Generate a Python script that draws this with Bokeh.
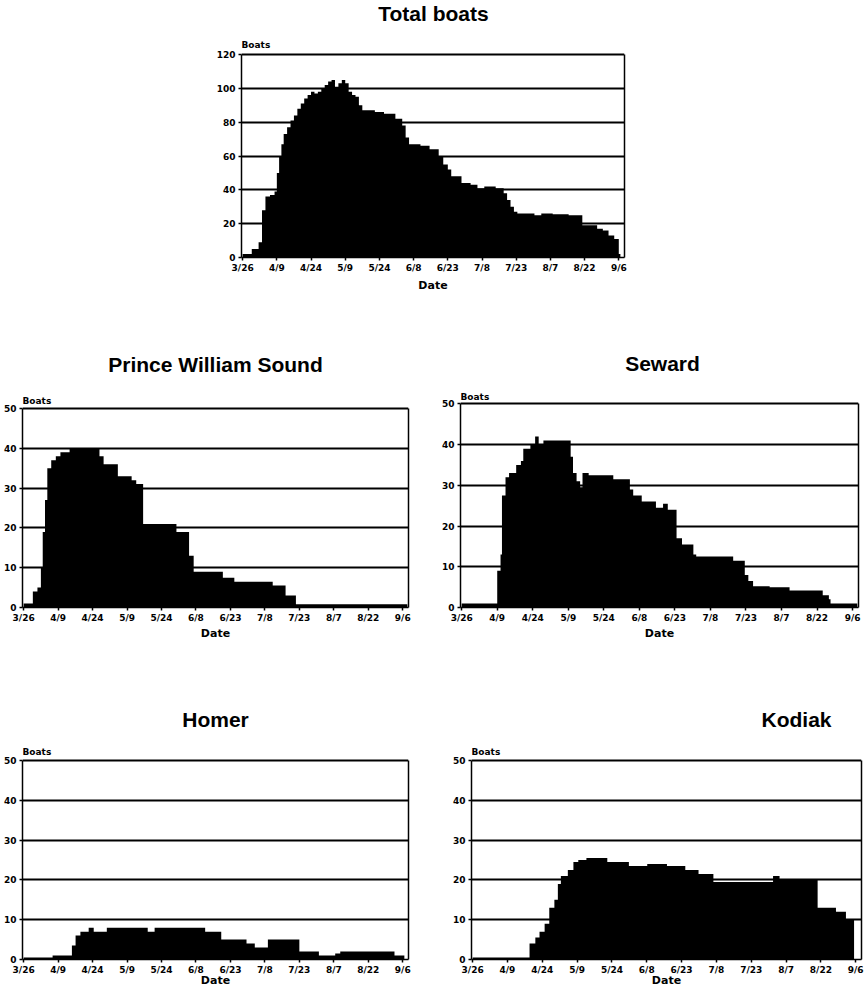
from bokeh.plotting import figure
from bokeh.layouts import column, row
from bokeh.models import FixedTicker, Range1d, Label, LinearAxis
from bokeh.embed import file_html
from bokeh.resources import INLINE

# ---------------- data ----------------
date_ticks = [0, 15, 30, 45, 60, 75, 90, 105, 120, 135, 150, 165]
date_labels = ["3/26", "4/9", "4/24", "5/9", "5/24", "6/8", "6/23",
               "7/8", "7/23", "8/7", "8/22", "9/6"]

# step start days (days after 3/26) and the last end day
total_days = [0, 4, 7, 8.5, 10, 12, 14, 15, 16, 17, 18, 19.5, 21, 22.5, 24, 25.5,
              27, 28.5, 30, 31.5, 33, 34.5, 36, 37.5, 39, 40.5, 42, 43.5, 45, 46.5,
              48, 49.5, 51, 52.5, 58, 62, 67, 70, 71.5, 73, 78, 82, 86, 88, 90,
              91.5, 96, 100, 103, 106, 111, 114.5, 116, 117.5, 119, 120.5, 128,
              131, 136, 143, 149, 155.5, 158, 160.5, 163, 165, 165.7]
total_boats = [2, 5, 9, 28, 36, 37, 39, 50, 60, 67, 73, 77, 81, 84, 88, 91,
               94, 96, 98, 97, 98, 100, 102, 104, 105, 101, 103, 105, 103, 98,
               96, 95, 90, 87, 86, 85, 82, 78, 71, 67, 66, 64, 60, 55, 52,
               48, 44, 43, 41, 42, 41, 38, 34, 30, 27, 26, 25,
               26, 25.5, 25, 19, 17, 16, 13, 11, 2]

pws_days = [0, 4, 6, 7.5, 8.3, 9.3, 10.3, 12, 14, 16, 20, 33, 34.8, 41, 47, 49,
            52, 66.5, 72, 74, 86.7, 91.7, 108.4, 114, 118.5, 167]
pws_boats = [1, 4, 5, 10, 19, 27, 35, 37, 38, 39, 40, 38, 36, 33, 32, 31,
             21, 19, 13, 9, 7.5, 6.5, 5.5, 3, 0.8]

seward_days = [0, 15, 16.4, 17, 18.5, 20, 23, 25, 26, 29, 31, 32.5, 34.5, 46, 47,
               48.5, 50, 51, 53.6, 64, 71, 72.4, 76, 82, 85, 87, 90.7, 93, 97.8,
               99, 114.6, 119.5, 121, 123, 130, 138.4, 152.4, 155, 155.7, 167]
seward_boats = [1, 9, 13, 27.5, 32, 33, 35, 36, 39, 40, 42, 40, 41, 37,
                33, 31, 29.5, 33, 32.5, 31.5, 29, 27.5, 26, 24.5, 25.5, 24, 17, 15.5,
                13, 12.5, 11.5, 8, 6.5, 5.2, 5, 4.2, 3, 2, 1]

homer_days = [0, 12.6, 21, 22.6, 24.7, 28.3, 30.5, 36.2, 54, 57, 79, 86, 97,
              100.6, 106.3, 120, 128.5, 135.6, 137.8, 161.4, 165.7]
homer_boats = [0.5, 1, 3.5, 6, 7, 8, 7, 8, 7, 8, 7, 5, 4, 3, 5, 2, 1, 1.5, 2, 1]

kodiak_days = [0, 24.5, 27, 28.8, 31, 33, 35.2, 36.7, 38, 41, 43.4, 45.5, 49, 58,
               67.3, 75.2, 83.7, 91.6, 97.3, 103.7, 129.4, 132.2, 148.6, 156.5,
               160.8, 164.3]
kodiak_boats = [0.5, 4, 5.5, 7, 9, 13, 15, 19, 21, 22.5, 24.5, 25, 25.5, 24.5,
                23.5, 24, 23.5, 22.5, 21.5, 19.5, 21, 20, 13, 12, 10]

X0, X1 = -0.5, 167.5
TICK_FONT = "DejaVu Sans"
TITLE_FONT = "Liberation Sans"


def make_chart(title, days, boats, ymax, ystep, width, height,
               mb_l, mb_r, mb_b, plot_top, title_x, title_y, boats_y,
               tick_standoff, label_standoff):
    # the frame runs from the figure's top edge; the visible plot box spans 0..ymax
    frame_bottom = height - mb_b
    per_px = ymax / (frame_bottom - plot_top)
    fw = width - mb_l - mb_r
    def ydata(py):
        return (frame_bottom - py) * per_px
    def xdata(px):
        return X0 + (px - mb_l) * (X1 - X0) / fw

    p = figure(width=width, height=height, output_backend="svg",
               toolbar_location=None, x_range=Range1d(X0, X1),
               y_range=Range1d(0, ydata(0)),
               min_border_left=mb_l, min_border_right=mb_r,
               min_border_top=0, min_border_bottom=mb_b)
    p.background_fill_color = "white"
    p.border_fill_color = "white"
    p.outline_line_color = None

    p.varea_step(x=days, y1=0, y2=list(boats) + [boats[-1]], step_mode="after",
                 fill_color="black")

    yticks = list(range(0, ymax + 1, ystep))
    p.xgrid.grid_line_color = None
    p.ygrid.grid_line_color = "black"
    p.ygrid.grid_line_width = 2

    p.xaxis.ticker = FixedTicker(ticks=date_ticks)
    p.xaxis.major_label_overrides = {t: l for t, l in zip(date_ticks, date_labels)}
    p.yaxis.ticker = FixedTicker(ticks=yticks)
    p.yaxis.bounds = (0, ymax)
    for ax in (p.xaxis, p.yaxis):
        ax.axis_line_color = "black"
        ax.axis_line_width = 1.5
        ax.major_tick_line_color = "black"
        ax.major_tick_line_width = 1.5
        ax.major_tick_in = 0
        ax.major_tick_out = 3
        ax.minor_tick_line_color = None
        ax.major_label_text_font = TICK_FONT
        ax.major_label_text_font_style = "bold"
        ax.major_label_text_font_size = "9px"
        ax.major_label_text_color = "black"
    p.xaxis.major_label_standoff = tick_standoff
    p.yaxis.major_label_standoff = 3
    p.xaxis.axis_label = "Date"
    p.xaxis.axis_label_text_font = TICK_FONT
    p.xaxis.axis_label_text_font_style = "bold"
    p.xaxis.axis_label_text_font_size = "11px"
    p.xaxis.axis_label_text_color = "black"
    p.xaxis.axis_label_standoff = label_standoff

    # right edge of the plot box
    right_axis = LinearAxis(ticker=FixedTicker(ticks=[]), bounds=(0, ymax),
                            axis_line_color="black", axis_line_width=1.5,
                            major_tick_line_color=None, minor_tick_line_color=None,
                            major_label_text_font_size="0px",
                            major_tick_out=0, major_label_standoff=0)
    p.add_layout(right_axis, "right")

    p.add_layout(Label(x=xdata(title_x), y=ydata(title_y), text=title,
                       text_align="center", text_baseline="middle",
                       text_font=TITLE_FONT, text_font_style="bold",
                       text_font_size="21px", text_color="black"))
    p.add_layout(Label(x=X0, y=ydata(boats_y), text="Boats",
                       text_align="left", text_baseline="middle",
                       text_font=TICK_FONT, text_font_style="bold",
                       text_font_size="9px", text_color="black"))
    return p


p_total = make_chart("Total boats", total_days, total_boats, 120, 20,
                     864, 310, 241, 240, 53, 54, 433, 13, 44, 2, 3)
p_pws = make_chart("Prince William Sound", pws_days, pws_boats, 50, 10,
                   432, 340, 20, 24, 43, 98, 214, 54, 90, 2, 1)
p_sew = make_chart("Seward", seward_days, seward_boats, 50, 10,
                   432, 340, 28, 6, 41, 94, 230, 53, 87, 2, 1)
p_hom = make_chart("Homer", homer_days, homer_boats, 50, 10,
                   432, 345, 20, 24, 36, 110, 214, 69, 101, 2, -4)
p_kod = make_chart("Kodiak", kodiak_days, kodiak_boats, 50, 10,
                   432, 345, 39, 3, 36, 110, 364, 69, 101, 2, -4)

layout = column(p_total, row(p_pws, p_sew), row(p_hom, p_kod))
open("out.html", "w").write(file_html(layout, INLINE))
